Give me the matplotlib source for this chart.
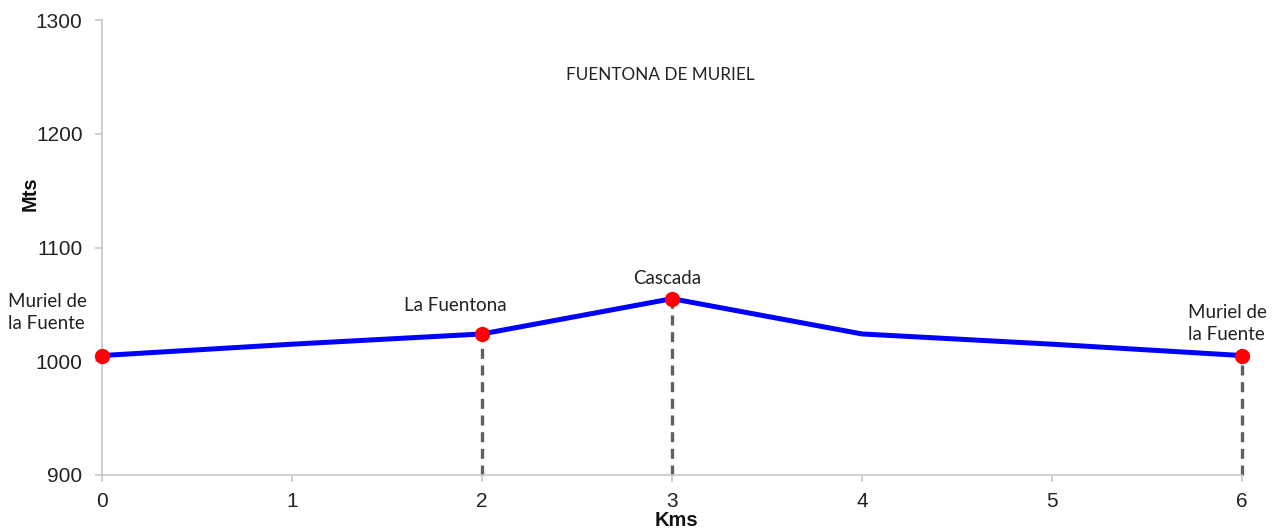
import matplotlib
matplotlib.use("Agg")
import matplotlib.pyplot as plt

# Data
kms = [0, 1, 2, 3, 4, 5, 6]
tick_labels = ["0", "1", "2", "3", "4", "5", "6"]
altitude = [1005, 1015, 1024, 1055, 1024, 1015, 1005]
waypoint_idx = [0, 2, 3, 6]
waypoint_names = ["Muriel de\nla Fuente", "La Fuentona", "Cascada", "Muriel de\nla Fuente"]
title = "FUENTONA DE MURIEL"

fig = plt.figure(figsize=(12.78, 5.32), dpi=100)
ax = fig.add_axes([102/1278, 1 - 475/532, (1242 - 102)/1278, (475 - 20)/532])

ax.plot(kms, altitude, color="#0000FF", lw=3.6, solid_capstyle="round", zorder=3,
        clip_on=False)
wx = [kms[i] for i in waypoint_idx]
wy = [altitude[i] for i in waypoint_idx]
ax.plot(wx, wy, "o", color="#FF0000", ms=11, zorder=4, markeredgewidth=0, clip_on=False)
for x, y in zip(wx[1:], wy[1:]):
    ax.vlines(x, 900, y, colors="#606060", linestyles=(0, (3.0, 2.0)), lw=2.4, zorder=2,
              clip_on=False)

ax.set_xlim(0, 6)
ax.set_ylim(900, 1300)
ax.set_xticks(kms)
ax.set_xticklabels(tick_labels)
ax.set_yticks([900, 1000, 1100, 1200, 1300])

for s in ["top", "right"]:
    ax.spines[s].set_visible(False)
for s in ["left", "bottom"]:
    ax.spines[s].set_color("#c8c8c8")
    ax.spines[s].set_linewidth(1.2)
ax.tick_params(axis="both", colors="#c8c8c8", length=5, width=1.2,
               labelcolor="#222222", labelsize=15)
for lab in ax.get_xticklabels() + ax.get_yticklabels():
    lab.set_family("Liberation Sans")
ax.tick_params(axis="y", pad=9)
ax.tick_params(axis="x", pad=7)

lfont = dict(family="Lato", fontsize=13.5, color="#222222")
ax.annotate(waypoint_names[0], xy=(wx[0], wy[0]), xycoords="data",
            xytext=(-94, 24), textcoords="offset pixels", ha="left", va="bottom",
            linespacing=1.3, **lfont)
ax.annotate(waypoint_names[1], xy=(wx[1], wy[1]), xycoords="data",
            xytext=(-27, 20), textcoords="offset pixels", ha="center", va="bottom", **lfont)
ax.annotate(waypoint_names[2], xy=(wx[2], wy[2]), xycoords="data",
            xytext=(-5, 12), textcoords="offset pixels", ha="center", va="bottom", **lfont)
ax.annotate(waypoint_names[3], xy=(wx[3], wy[3]), xycoords="data",
            xytext=(-54, 13), textcoords="offset pixels", ha="left", va="bottom",
            linespacing=1.3, **lfont)

fig.text(660/1278, 1 - 75/532, title, ha="center", va="center", family="Lato",
         fontsize=12.3, color="#222222")
fig.text(30/1278, 1 - 194/532, "Mts", rotation=90, ha="center", va="center",
         family="Liberation Sans", fontweight="bold", fontsize=14.5, color="#111111")
fig.text(676/1278, 1 - 521/532, "Kms", ha="center", va="center",
         family="Liberation Sans", fontweight="bold", fontsize=14.5, color="#111111")

fig.savefig("out.png", dpi=100)
